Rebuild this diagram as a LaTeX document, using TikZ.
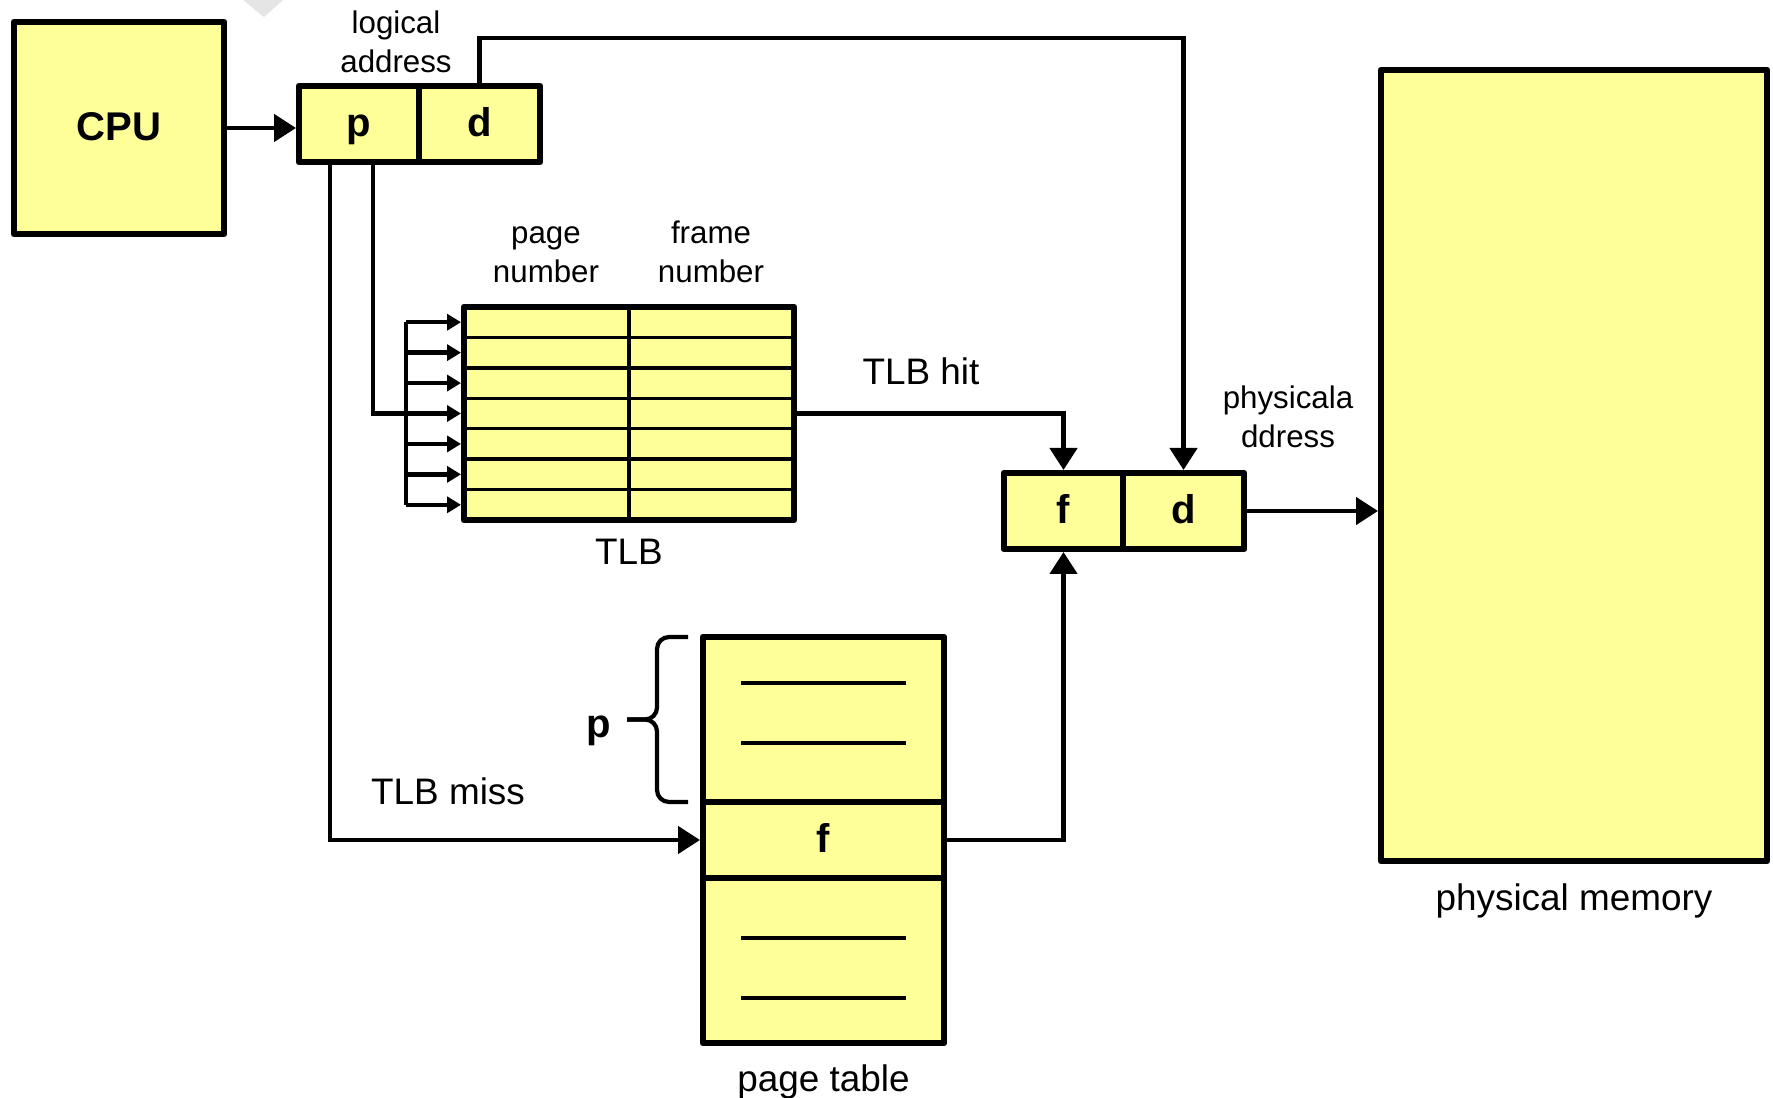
\documentclass[tikz,border=0pt]{standalone}
\usepackage{fontspec}
\setmainfont{Liberation Sans}
\usepackage{xcolor}
\usepackage{tikz}
\usetikzlibrary{arrows.meta, positioning, calc}
\definecolor{boxyellow}{RGB}{255,255,153}

\begin{document}
\begin{tikzpicture}
        \tikzstyle{block} = [rectangle, draw, line width=1.9pt, line join=round, fill=boxyellow, inner sep=0pt, outer sep=0pt, text height=0.72em, text depth=0.02em, font=\fontsize{11.4pt}{13pt}\selectfont\bfseries]
        \tikzstyle{line} = [draw, line width=1.3pt, -{Triangle[length=0.22cm,width=0.27cm]}, shorten >=0.03cm]
        \tikzstyle{tap} = [draw, line width=1.3pt, -{Triangle[length=0.14cm,width=0.16cm]}, shorten >=0.03cm]
        \tikzstyle{rule} = [draw, line width=1.3pt]
        \tikzstyle{small} = [align=center, inner sep=0pt, font=\fontsize{8.9pt}{11.1pt}\selectfont]
        \tikzstyle{big} = [inner sep=0pt, font=\fontsize{10.5pt}{12.6pt}\selectfont]
        \tikzstyle{bold} = [inner sep=0pt, font=\fontsize{11.4pt}{13pt}\selectfont\bfseries]

        \useasboundingbox (0,0) rectangle (17.73,-10.98);
        \fill [black!10] (2.43,0) -- (2.83,0) -- (2.64,-0.17) -- cycle;

        % Nodes
        \node [block, minimum width=2.10cm, minimum height=2.12cm] (cpu) at (1.19,-1.28) {CPU};
        \node [block, minimum width=1.20cm, minimum height=0.76cm] (lp) at (3.59,-1.24) {p};
        \node [block, minimum width=1.21cm, minimum height=0.76cm, right=0pt of lp] (ld) {d};
        \node [block, minimum width=3.30cm, minimum height=2.13cm] (tlb) at (6.29,-4.135) {};
        \node [block, minimum width=1.19cm, minimum height=0.76cm] (ff) at (10.635,-5.11) {f};
        \node [block, minimum width=1.21cm, minimum height=0.76cm, right=0pt of ff] (fd) {d};
        \node [block, minimum width=3.86cm, minimum height=7.91cm] (mem) at (15.74,-4.655) {};
        \node [block, minimum width=2.41cm, minimum height=1.65cm] (pttop) at (8.235,-7.195) {};
        \node [block, minimum width=2.41cm, minimum height=0.76cm, below=0pt of pttop] (ptf) {f};
        \node [block, minimum width=2.41cm, minimum height=1.65cm, below=0pt of ptf] (ptbot) {};

        % Labels
        \node [small] (logl) at (3.96,-0.415) {logical\\address};
        \node [small] (pagel) at (5.46,-2.545) {page\\number};
        \node [small] (framel) at (7.11,-2.515) {frame\\number};
        \node [small] (physl) at (12.88,-4.165) {physicala\\ddress};
        \node [big] (hitl) at (9.21,-3.715) {TLB hit};
        \node [big] (missl) at (4.48,-7.915) {TLB miss};
        \node [big, below=0.18cm of tlb] (tlbl) {TLB};
        \node [big, below=0.22cm of mem] (meml) {physical memory};
        \node [big, below=0.21cm of ptbot] (ptl) {page table};
        \node [bold] (pl) at (5.99,-7.31) {p};

        % TLB rows
        \draw [line width=1pt] (tlb.north) -- (tlb.south);
        \foreach \i in {1,...,6}
            \draw [line width=1pt] ($(tlb.north west)+(0,{-0.3043*\i})$) -- ($(tlb.north east)+(0,{-0.3043*\i})$);
        \foreach \i in {1,...,7} {
            \coordinate (row\i) at ($(tlb.north west)+(0,{-0.3043*(\i-0.5)})$);
            \coordinate (bus\i) at ($(row\i)+(-0.58,0)$);
            \path [tap] (bus\i) -- (row\i);
        }
        \path [rule] (bus1) -- (bus7);

        % page table entries
        \foreach \dy in {0.365,-0.235}
            \path [rule] ($(pttop.center)+(-0.825,\dy)$) -- ($(pttop.center)+(0.825,\dy)$);
        \foreach \dy in {0.225,-0.375}
            \path [rule] ($(ptbot.center)+(-0.825,\dy)$) -- ($(ptbot.center)+(0.825,\dy)$);

        % brace
        \coordinate (tip) at ($(pttop.west)+(-0.76,0)$);
        \coordinate (mid) at ($(pttop.west)+(-0.46,0)$);
        \draw [line width=1.2pt, rounded corners=0.12cm] ($(pttop.north west)+(-0.15,0)$) -- ++(-0.31,0) -- (mid) -- (tip);
        \draw [line width=1.2pt, rounded corners=0.12cm] ($(pttop.south west)+(-0.15,0)$) -- ++(-0.31,0) -- (mid) -- (tip);

        % Paths
        \path [line] (cpu.east) -- (cpu.east -| lp.west);
        \path [rule] ([xshift=0.14cm]lp.south) |- (bus4);
        \path [line] ([xshift=-0.29cm]lp.south) |- (ptf.west);
        \path [line] (tlb.east) -| (ff.north);
        \path [line] (ld.north) -- ++(0,0.48) -| (fd.north);
        \path [line] (ptf.east) -| (ff.south);
        \path [line] (fd.east) -- (mem.west |- fd.east);
\end{tikzpicture}
\end{document}
